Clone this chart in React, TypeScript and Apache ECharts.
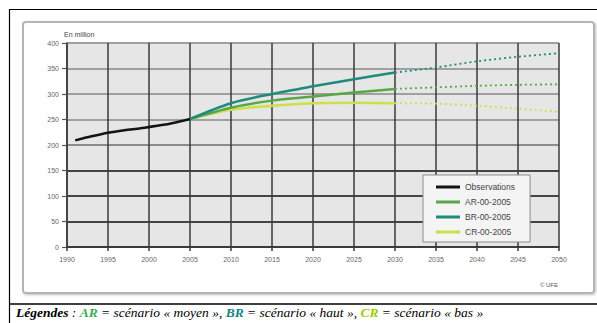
import React, { useEffect, useRef } from "react";
import * as echarts from "echarts";

const xTicksMin = 1990;
const xTicksMax = 2050;
const yTicksMax = 400;

const obsYears = [1991, 1993, 1995, 1997, 1999, 2002, 2004, 2005];
const obsValues = [209, 217, 224, 229, 233, 240, 247, 251];

const scenYearsSolid = [2005, 2010, 2015, 2020, 2025, 2030];
const scenYearsDotted = [2030, 2035, 2040, 2045, 2050];

const arSolid = [251, 273, 287, 295, 303, 310];
const arDotted = [310, 313, 316, 318, 319];
const brSolid = [251, 282, 300, 315, 329, 342];
const brDotted = [342, 352, 364, 373, 380];
const crSolid = [251, 269, 277, 282, 283, 282];
const crDotted = [282, 281, 277, 271, 265];

const legendNames = ["Observations", "AR-00-2005", "BR-00-2005", "CR-00-2005"];

const pair = (xs: number[], ys: number[]) => xs.map((x, i) => [x, ys[i]]);

export default function App() {
  const ref = useRef<HTMLDivElement>(null);
  useEffect(() => {
    if (!ref.current) return;
    const chart = echarts.init(ref.current, null, { renderer: "svg" });
    const C_OBS = "#141414";
    const C_AR = "#5aa845";
    const C_BR = "#1e8a80";
    const C_CR = "#cde04a";
    const solid = (name: string, color: string, xs: number[], ys: number[], z: number) => ({
      name,
      type: "line",
      data: pair(xs, ys),
      showSymbol: false,
      smooth: 0.3,
      z,
      lineStyle: { color, width: 2.5 },
      itemStyle: { color },
    });
    const dotted = (name: string, color: string, xs: number[], ys: number[], z: number) => ({
      name,
      type: "line",
      data: pair(xs, ys),
      showSymbol: false,
      smooth: 0.3,
      z,
      lineStyle: { color, width: 1.8, type: [2, 3] },
      itemStyle: { color },
    });
    const serif = "Liberation Serif, Times New Roman, serif";
    chart.setOption({
      animation: false,
      backgroundColor: "#ffffff",
      textStyle: { fontFamily: "Liberation Sans, Arial, sans-serif" },
      grid: {
        left: 67,
        right: 38,
        top: 43,
        bottom: 76,
        show: true,
        backgroundColor: "#e6e6e6",
        borderWidth: 0,
      },
      xAxis: {
        type: "value",
        min: xTicksMin,
        max: xTicksMax,
        interval: 5,
        axisLine: { show: true, lineStyle: { color: "#3a3a3a", width: 1.5 } },
        axisTick: { show: true, length: 4, lineStyle: { color: "#3a3a3a", width: 1.5 } },
        splitLine: { show: true, lineStyle: { color: "#3a3a3a", width: 1.5 } },
        axisLabel: { fontSize: 7, color: "#666", margin: 9, formatter: (v: number) => String(v) },
      },
      yAxis: {
        type: "value",
        min: 0,
        max: yTicksMax,
        interval: 50,
        axisLine: { show: true, lineStyle: { color: "#3a3a3a", width: 1.5 } },
        axisTick: { show: true, length: 5, lineStyle: { color: "#555", width: 1.2 } },
        splitLine: {
          show: true,
          lineStyle: {
            color: ["#444", "#444", "#444", "#444", "#8c8c8c", "#a0a0a0", "#a0a0a0", "#a0a0a0", "#a0a0a0"],
            width: 2,
          },
        },
        axisLabel: { fontSize: 7, color: "#666", margin: 8 },
      },
      legend: {
        data: legendNames,
        orient: "vertical",
        left: 423,
        top: 175,
        backgroundColor: "#f4f4f4",
        borderColor: "#8a8a8a",
        borderWidth: 1,
        padding: [7, 15, 5, 13],
        itemWidth: 24,
        itemHeight: 3,
        itemGap: 5,
        icon: "rect",
        textStyle: { fontSize: 8.5, color: "#444", lineHeight: 10 },
      },
      graphic: [
        {
          type: "rect",
          shape: { x: 9.5, y: 9.5, width: 620, height: 340 },
          style: { fill: "none", stroke: "#000", lineWidth: 1.2 },
          z: 0,
          silent: true,
        },
        {
          type: "rect",
          shape: { x: 23, y: 22, width: 571, height: 271, r: 3 },
          style: { fill: "#fff", stroke: "#b5b5b5", lineWidth: 2, shadowBlur: 2, shadowColor: "rgba(0,0,0,0.25)", shadowOffsetX: 1, shadowOffsetY: 1 },
          z: -10,
          silent: true,
        },
        {
          type: "line",
          shape: { x1: 9, y1: 304, x2: 600, y2: 304 },
          style: { stroke: "#000", lineWidth: 1.3 },
          silent: true,
        },
        {
          type: "text",
          x: 64,
          y: 34,
          style: { text: "En million", fontSize: 7, fill: "#444", verticalAlign: "middle", fontFamily: "Liberation Sans, Arial, sans-serif" },
        },
        {
          type: "text",
          x: 549,
          y: 285,
          style: { text: "© UFE", fontSize: 6, fill: "#555", align: "center", verticalAlign: "middle", fontFamily: "Liberation Sans, Arial, sans-serif" },
        },
        {
          type: "text",
          x: 16,
          y: 312,
          style: {
            text: "{b|Légendes} : {ar|AR} = scénario « moyen », {br|BR} = scénario « haut », {cr|CR} = scénario « bas »",
            fontSize: 13.5,
            fontStyle: "italic",
            fill: "#000",
            verticalAlign: "middle",
            fontFamily: serif,
            rich: {
              b: { fontSize: 13.5, fontStyle: "italic", fontWeight: "bold", fill: "#000", fontFamily: serif },
              ar: { fontSize: 13.5, fontStyle: "italic", fontWeight: "bold", fill: "#3aaa55", fontFamily: serif },
              br: { fontSize: 13.5, fontStyle: "italic", fontWeight: "bold", fill: "#128585", fontFamily: serif },
              cr: { fontSize: 13.5, fontStyle: "italic", fontWeight: "bold", fill: "#99cc00", fontFamily: serif },
            },
          },
        },
      ],
      series: [
        solid("CR-00-2005", C_CR, scenYearsSolid, crSolid, 3),
        dotted("CR dotted", C_CR, scenYearsDotted, crDotted, 3),
        solid("AR-00-2005", C_AR, scenYearsSolid, arSolid, 4),
        dotted("AR dotted", C_AR, scenYearsDotted, arDotted, 4),
        solid("BR-00-2005", C_BR, scenYearsSolid, brSolid, 5),
        dotted("BR dotted", C_BR, scenYearsDotted, brDotted, 5),
        solid("Observations", C_OBS, obsYears, obsValues, 6),
      ],
    });
    return () => chart.dispose();
  }, []);
  return (
    <div
      ref={ref}
      style={{ position: "absolute", left: 0, top: 0, width: 597, height: 323, background: "#fff" }}
    />
  );
}
